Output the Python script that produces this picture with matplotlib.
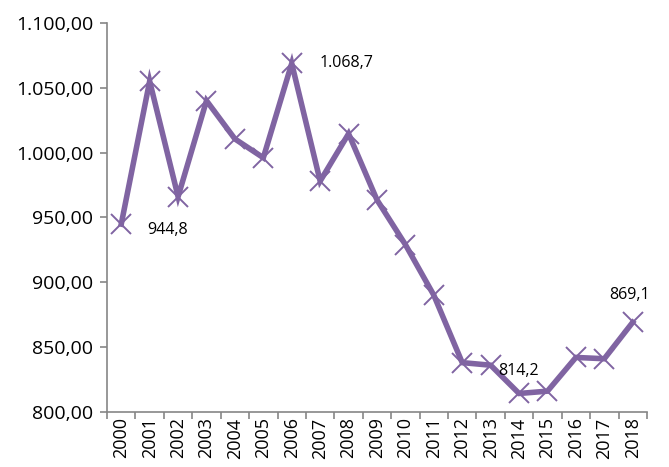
import matplotlib.pyplot as plt
from matplotlib.ticker import FuncFormatter, FixedLocator

years = [str(y) for y in range(2000, 2019)]
values = [944.8, 1055.0, 966.0, 1040.0, 1010.5, 996.0, 1068.7, 978.0, 1014.5,
          963.5, 929.0, 890.0, 838.0, 836.0, 814.2, 816.0, 842.0, 841.0, 869.1]

# labelled points: index -> (offset in points, horizontal alignment)
labels = {0: ((19, -4), "left"), 6: ((20, 0), "left"),
          14: ((0, 16), "center"), 18: ((-2, 20), "center")}

color = "#8064A2"
axis_gray = "#868686"

plt.rcParams["font.family"] = ["Open Sans", "DejaVu Sans"]


def de_format(v, digits):
    s = f"{v:,.{digits}f}"
    return s.replace(",", "X").replace(".", ",").replace("X", ".")


fig = plt.figure(figsize=(6.69, 4.67), dpi=100)
ax = fig.add_axes([0.16, 0.118, 0.807, 0.833])

x = list(range(len(years)))
ax.plot(x, values, color=color, linewidth=4.0, marker="x",
        markersize=14, markeredgewidth=1.4, solid_joinstyle="miter", zorder=3)

for i, (off, ha) in labels.items():
    ax.annotate(de_format(values[i], 1), (x[i], values[i]), xytext=off,
                textcoords="offset points", ha=ha, va="center",
                fontsize=11.5, color="#000000")

ax.set_xlim(-0.5, len(years) - 0.5)
ax.set_ylim(800, 1100)
ax.set_yticks(range(800, 1101, 50))
ax.yaxis.set_major_formatter(FuncFormatter(lambda v, p: de_format(v, 2)))

ax.set_xticks(x)
ax.set_xticklabels(years, rotation=90, fontsize=13)
ax.xaxis.set_minor_locator(FixedLocator([i - 0.5 for i in range(len(years) + 1)]))
ax.tick_params(axis="x", which="major", length=0, pad=4)
ax.tick_params(axis="x", which="minor", length=5, color=axis_gray, width=1.2)
ax.tick_params(axis="y", length=5, color=axis_gray, width=1.2, labelsize=14, pad=5)

for s in ["top", "right"]:
    ax.spines[s].set_visible(False)
for s in ["left", "bottom"]:
    ax.spines[s].set_color(axis_gray)
    ax.spines[s].set_linewidth(1.2)

fig.savefig("out.png", dpi=100)
